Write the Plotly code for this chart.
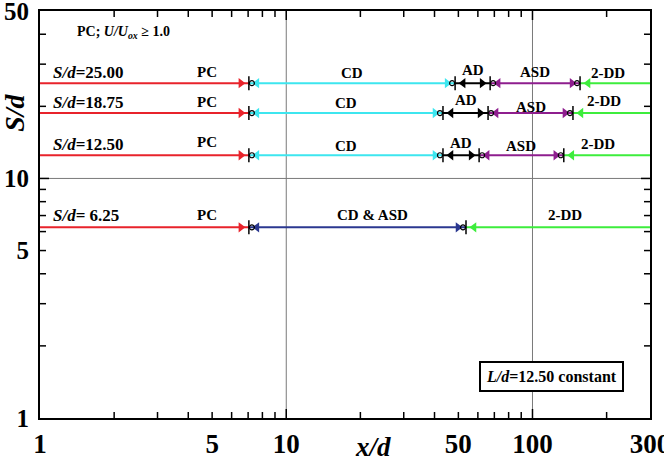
import numpy as np
import plotly.graph_objects as go

# ---------------- data ----------------
sd_rows = [25.00, 18.75, 12.50]          # S/d of the upper three rows
pc_end = [7.05, 7.05, 7.05]              # end of PC region (x/d)
cd_end = [48.5, 43.3, 43.3]              # end of CD region
ad_end = [67.3, 66.0, 60.7]              # end of AD region
asd_end = [156.0, 146.0, 134.0]          # end of ASD region
row_labels = ["25.00", "18.75", "12.50"]

sd_low = 6.25                            # lowest row
pc_end_low = 7.05
cdasd_end_low = 53.7
row_label_low = " 6.25"

x_min, x_max = 1, 300
y_min, y_max = 1, 50

x_tick_vals = [1, 5, 10, 50, 100, 300]
x_tick_text = ["1", "5", "10", "50", "100", "300"]
x_long_ticks = [10, 100]
x_short_ticks = [2, 3, 4, 5, 6, 7, 8, 9, 20, 30, 40, 50, 60, 70, 80, 90, 200]
y_tick_vals = [1, 5, 10, 50]
y_tick_text = ["1", "5", "10", "50"]
y_long_ticks = [10]
y_short_ticks = [2, 3, 4, 5, 6, 7, 8, 9, 20, 30, 40]
grid_x = [10, 100]
grid_y = [10]

# ---------------- style ----------------
RED = "#e8232b"
CYAN = "#3de6ef"
BLACK = "#000000"
PURPLE = "#8e1e8e"
GREEN = "#3ded3c"
NAVY = "#2b3890"
FONT = "Liberation Serif"

PLOT_W, PLOT_H = 610, 407
PX_PER_DEC = PLOT_W / np.log10(x_max / x_min)
PX_PER_DEC_Y = PLOT_H / np.log10(y_max / y_min)
EPS = 1e-4


def shift(x, px):
    return x * 10 ** (px / PX_PER_DEC)


def shift_y(y, px):
    return y * 10 ** (px / PX_PER_DEC_Y)


fig = go.Figure()

# grid lines
for gx in grid_x:
    fig.add_trace(go.Scatter(x=[gx, gx], y=[y_min, y_max], mode="lines",
                             line=dict(color="#7a7a7a", width=1), hoverinfo="skip"))
for gy in grid_y:
    fig.add_trace(go.Scatter(x=[x_min, x_max], y=[gy, gy], mode="lines",
                             line=dict(color="#7a7a7a", width=1), hoverinfo="skip"))

# inward tick marks on all four sides
tx, ty = [], []
for vals, ln in ((x_long_ticks, 9), (x_short_ticks, 6)):
    for v in vals:
        tx += [v, v, None, v, v, None]
        ty += [y_min, shift_y(y_min, ln), None, y_max, shift_y(y_max, -ln), None]
for vals, ln in ((y_long_ticks, 9), (y_short_ticks, 6)):
    for v in vals:
        tx += [x_min, shift(x_min, ln), None, x_max, shift(x_max, -ln), None]
        ty += [v, v, None, v, v, None]
fig.add_trace(go.Scatter(x=tx, y=ty, mode="lines", line=dict(color=BLACK, width=1.5),
                         hoverinfo="skip", connectgaps=False))


def segment(x0, x1, y, color, left_arrow, right_arrow):
    fig.add_trace(go.Scatter(x=[x0, x1], y=[y, y], mode="lines",
                             line=dict(color=color, width=2), hoverinfo="skip"))
    if left_arrow:
        fig.add_trace(go.Scatter(x=[shift(x0, 8)], y=[y], mode="markers",
                                 marker=dict(symbol="triangle-left", size=9, color=color,
                                             line=dict(width=0)), hoverinfo="skip"))
    if right_arrow:
        fig.add_trace(go.Scatter(x=[shift(x1, -8)], y=[y], mode="markers",
                                 marker=dict(symbol="triangle-right", size=9, color=color,
                                             line=dict(width=0)), hoverinfo="skip"))


def boundary(x, y, circle_side):
    fig.add_trace(go.Scatter(x=[x], y=[y], mode="markers",
                             marker=dict(symbol="line-ns-open", size=10, color=BLACK,
                                         line=dict(color=BLACK, width=1.5)), hoverinfo="skip"))
    fig.add_trace(go.Scatter(x=[shift(x, 3 * circle_side)], y=[y], mode="markers",
                             marker=dict(symbol="circle-open", size=5, color=BLACK,
                                         line=dict(color=BLACK, width=1.2)), hoverinfo="skip"))


def label(x, y, text, size=15, yshift=11):
    fig.add_annotation(x=np.log10(x), y=np.log10(y), xref="x", yref="y", text=f"<b>{text}</b>",
                       showarrow=False, yshift=yshift, yanchor="middle", xanchor="center",
                       font=dict(family=FONT, size=size, color=BLACK))


def lerp_log(a, b, t):
    return 10 ** (np.log10(a) + t * (np.log10(b) - np.log10(a)))


label_shift = [[11, 10, 13, 11, 10], [11, 10, 13, 6, 12], [13, 9, 12, 9, 11]]

for i, y in enumerate(sd_rows):
    b = [x_min, pc_end[i], cd_end[i], ad_end[i], asd_end[i], x_max]
    segment(b[0], b[1], y, RED, False, True)
    segment(b[1], b[2], y, CYAN, True, True)
    segment(b[2], b[3], y, BLACK, True, True)
    segment(b[3], b[4], y, PURPLE, True, True)
    segment(b[4], b[5], y, GREEN, True, False)
    boundary(b[1], y, 1)
    boundary(b[2], y, -1)
    boundary(b[3], y, 1)
    boundary(b[4], y, -1)
    ls = label_shift[i]
    label(lerp_log(b[0], b[1], 0.8), y, "PC", yshift=ls[0])
    label(lerp_log(b[1], b[2], 0.5), y, "CD", yshift=ls[1])
    label(lerp_log(b[2], b[3], 0.5), y, "AD", yshift=ls[2])
    label(lerp_log(b[3], b[4], 0.5), y, "ASD", yshift=ls[3])
    label(lerp_log(b[4], b[5], 0.4), y, "2-DD", yshift=ls[4])
    fig.add_annotation(x=0, y=np.log10(y), xref="x", yref="y",
                       text=f"<b><i>S/d</i>={row_labels[i]}</b>", showarrow=False,
                       xanchor="left", xshift=11, yshift=11, yanchor="middle",
                       font=dict(family=FONT, size=17, color=BLACK))

# lowest row
b = [x_min, pc_end_low, cdasd_end_low, x_max]
segment(b[0], b[1], sd_low, RED, False, True)
segment(b[1], b[2], sd_low, NAVY, True, True)
segment(b[2], b[3], sd_low, GREEN, True, False)
boundary(b[1], sd_low, 1)
boundary(b[2], sd_low, -1)
label(lerp_log(b[0], b[1], 0.8), sd_low, "PC", yshift=12)
label(lerp_log(b[1], b[2], 0.57), sd_low, "CD &amp; ASD", yshift=12)
label(lerp_log(b[2], b[3], 0.54), sd_low, "2-DD", yshift=12)
fig.add_annotation(x=0, y=np.log10(sd_low), xref="x", yref="y",
                   text=f"<b><i>S/d</i>={row_label_low}</b>", showarrow=False,
                   xanchor="left", xshift=11, yshift=12, yanchor="middle",
                   font=dict(family=FONT, size=17, color=BLACK))

# header text
fig.add_annotation(x=0.057, y=0.946, xref="paper", yref="paper", xanchor="left",
                   yanchor="middle",
                   text="<b>PC; <i>U/U<sub>ox</sub></i> ≥ 1.0</b>", showarrow=False,
                   font=dict(family=FONT, size=14, color=BLACK))

# info box
fig.add_annotation(x=0.839, y=0.101, xref="paper", yref="paper", xanchor="center",
                   yanchor="middle",
                   text="<b><i>L/d</i>=12.50 constant</b>", showarrow=False,
                   font=dict(family=FONT, size=16, color=BLACK),
                   bordercolor=BLACK, borderwidth=2, borderpad=5, bgcolor="white")

# axis titles
fig.add_annotation(x=-0.041, y=0.75, xref="paper", yref="paper", textangle=-90,
                   xanchor="center", yanchor="middle",
                   text="<b><i>S/d</i></b>", showarrow=False,
                   font=dict(family=FONT, size=28, color=BLACK))
fig.add_annotation(x=0.546, y=-0.071, xref="paper", yref="paper",
                   xanchor="center", yanchor="middle",
                   text="<b><i>x/d</i></b>", showarrow=False,
                   font=dict(family=FONT, size=27, color=BLACK))

axis_common = dict(showgrid=False, zeroline=False, showline=True, linecolor=BLACK,
                   linewidth=2, mirror=True, ticks="", ticklabeloverflow="allow",
                   automargin=False)

fig.update_xaxes(type="log", range=[np.log10(x_min) - EPS, np.log10(x_max) + EPS],
                 tickmode="array", tickvals=x_tick_vals,
                 ticktext=[f"<b>{t}</b>" for t in x_tick_text],
                 tickfont=dict(family=FONT, size=27, color=BLACK),
                 ticklabelstandoff=1,
                 **axis_common)
fig.update_yaxes(type="log", range=[np.log10(y_min) - EPS, np.log10(y_max) + EPS],
                 tickmode="array", tickvals=y_tick_vals,
                 ticktext=[f"<b>{t}</b>" for t in y_tick_text],
                 tickfont=dict(family=FONT, size=25, color=BLACK),
                 ticklabelstandoff=4,
                 **axis_common)

fig.update_layout(width=664, height=464, showlegend=False,
                  margin=dict(l=40, r=14, t=11, b=46),
                  plot_bgcolor="white", paper_bgcolor="white")

fig.write_html("out.html")
